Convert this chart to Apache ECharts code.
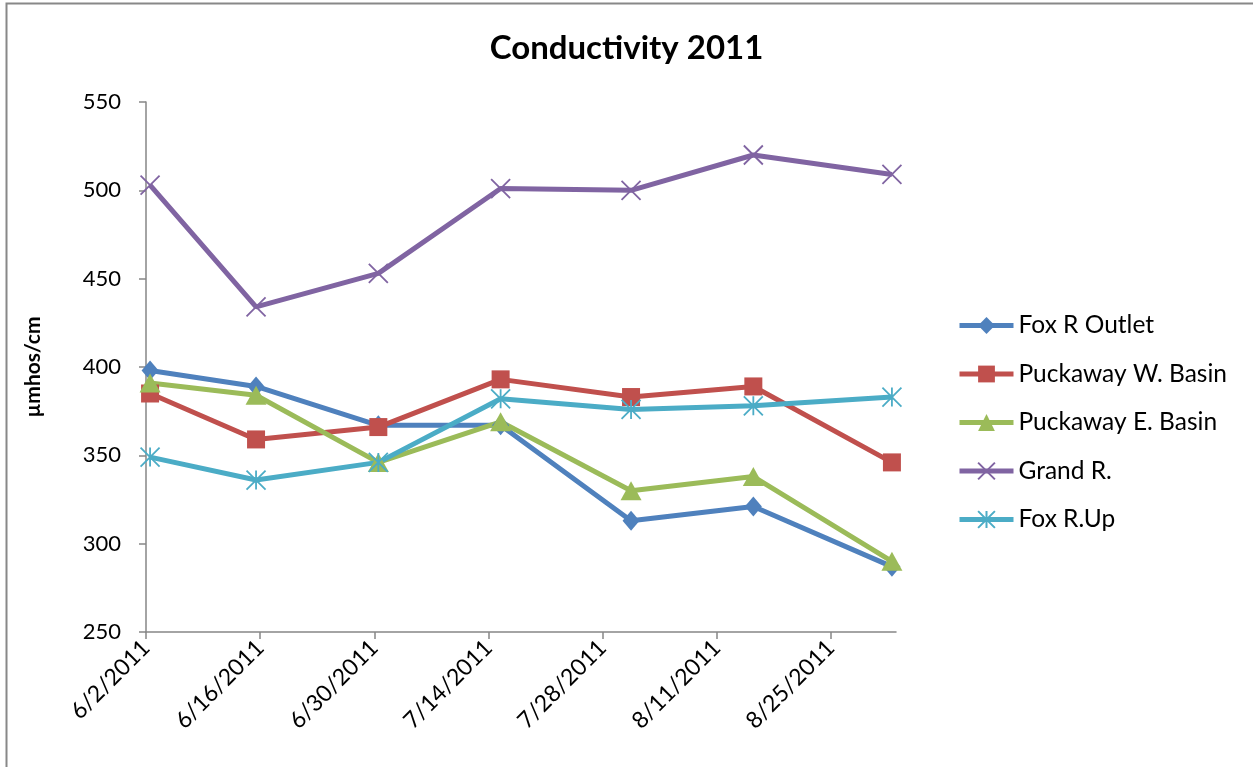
<!DOCTYPE html>
<html>
<head>
<meta charset="utf-8">
<script src="https://cdn.jsdelivr.net/npm/echarts@6/dist/echarts.min.js"></script>
<style>
  html, body { margin: 0; padding: 0; background: #fff; }
  #chart { width: 1253px; height: 767px; }
</style>
</head>
<body>
<div id="chart"></div>
<script>
// Sampling dates and conductivity readings (µmhos/cm)
const sampleDates = ['2011-06-02', '2011-06-15', '2011-06-30', '2011-07-15', '2011-07-31', '2011-08-15', '2011-09-01'];
const foxOutlet   = [398, 389, 367, 367, 313, 321, 287];
const puckawayW   = [385, 359, 366, 393, 383, 389, 346];
const puckawayE   = [391, 384, 346, 369, 330, 338, 290];
const grandR      = [503, 434, 453, 501, 500, 520, 509];
const foxUp       = [349, 336, 346, 382, 376, 378, 383];
const seriesNames = ['Fox R Outlet', 'Puckaway W. Basin', 'Puckaway E. Basin', 'Grand R.', 'Fox R.Up'];
const yTicks = [250, 300, 350, 400, 450, 500, 550];

// Date axis: days counted from the first sampling day, two-week major unit
const DAY = 86400000;
const start = Date.UTC(2011, 5, 2);
const axisEndDate = '2011-09-02';
const dayOf = s => { const [y, m, d] = s.split('-').map(Number); return (Date.UTC(y, m - 1, d) - start) / DAY; };
// each reading sits in the middle of its day slot
const xs = sampleDates.map(s => dayOf(s) + 0.5);
const tickDays = [];
for (let d = 0; d < dayOf(axisEndDate); d += 14) tickDays.push(d);
const fmtDate = v => { const t = new Date(start + v * DAY); return (t.getUTCMonth() + 1) + '/' + t.getUTCDate() + '/' + t.getUTCFullYear(); };

const FONT = 'Lato';
const colors = ['#4F81BD', '#C0504D', '#9BBB59', '#8064A2', '#4BACC6'];
const xMark = 'path://M0,0L10,10M10,0L0,10';
const starMark = 'path://M0,0L10,10M10,0L0,10M5,0L5,10';
const symbols = [
  { symbol: 'diamond', size: [17, 20] },
  { symbol: 'rect', size: 18 },
  { symbol: 'triangle', size: [21, 19] },
  { symbol: xMark, size: 19 },
  { symbol: starMark, size: 19 }
];
const values = [foxOutlet, puckawayW, puckawayE, grandR, foxUp];

const series = values.map((vals, i) => {
  const stroked = i >= 3;
  return {
    name: seriesNames[i],
    type: 'line',
    data: vals.map((v, k) => [xs[k], v]),
    symbol: symbols[i].symbol,
    symbolSize: symbols[i].size,
    showAllSymbol: true,
    lineStyle: { color: colors[i], width: 5 },
    itemStyle: stroked
      ? { color: 'rgba(0,0,0,0)', borderColor: colors[i], borderWidth: 1.8 }
      : { color: colors[i], borderWidth: 0 },
    emphasis: { disabled: true },
    animation: false
  };
});

const chart = echarts.init(document.getElementById('chart'), null, { renderer: 'canvas' });
chart.setOption({
  backgroundColor: '#fff',
  animation: false,
  color: colors,
  title: {
    text: 'Conductivity 2011',
    left: 'center',
    top: 27,
    textStyle: { fontFamily: FONT, fontWeight: 'bold', fontSize: 33, color: '#000' }
  },
  legend: {
    orient: 'vertical',
    left: 952,
    top: 308,
    itemWidth: 54,
    itemHeight: 21,
    itemGap: 23.5,
    data: seriesNames,
    lineStyle: { width: 5 },
    textStyle: { fontFamily: FONT, fontSize: 24.5, color: '#000' }
  },
  grid: { left: 146, right: 357, top: 102, bottom: 135, containLabel: false },
  xAxis: {
    type: 'value',
    min: 0,
    max: dayOf(axisEndDate),
    interval: 14,
    splitLine: { show: false },
    axisLine: { lineStyle: { color: '#868686', width: 1.5 } },
    axisTick: { length: 7, inside: false, customValues: tickDays, lineStyle: { color: '#868686', width: 1.5 } },
    axisLabel: {
      customValues: tickDays,
      rotate: 45,
      margin: 12,
      fontFamily: FONT,
      fontSize: 23,
      color: '#000',
      formatter: fmtDate
    }
  },
  yAxis: {
    type: 'value',
    min: yTicks[0],
    max: yTicks[yTicks.length - 1],
    interval: 50,
    name: 'µmhos/cm',
    nameLocation: 'middle',
    nameGap: 102,
    nameRotate: 90,
    nameTextStyle: { fontFamily: FONT, fontWeight: 'bold', fontSize: 21, color: '#000' },
    splitLine: { show: false },
    axisLine: { show: true, lineStyle: { color: '#868686', width: 1.5 } },
    axisTick: { show: true, length: 7, lineStyle: { color: '#868686', width: 1.5 } },
    axisLabel: { margin: 25, fontFamily: FONT, fontSize: 22, color: '#000' }
  },
  graphic: [{
    type: 'rect',
    shape: { x: 6.5, y: 3.5, width: 1400, height: 900 },
    style: { fill: 'none', stroke: '#888', lineWidth: 2 },
    silent: true
  }],
  series: series
});
</script>
</body>
</html>
